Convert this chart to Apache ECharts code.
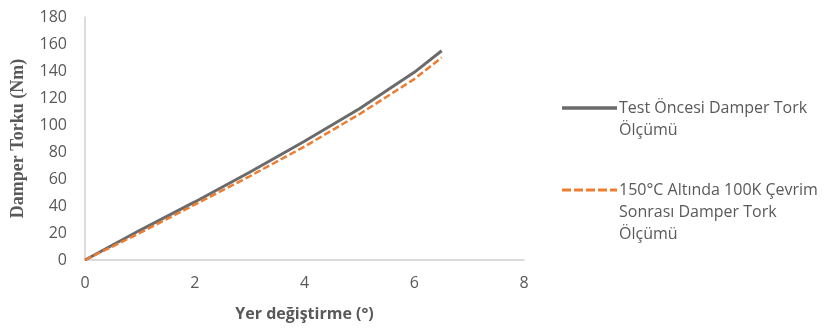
<!DOCTYPE html>
<html>
<head>
<meta charset="utf-8">
<script src="https://cdn.jsdelivr.net/npm/echarts@6/dist/echarts.min.js"></script>
<style>
  html, body { margin: 0; padding: 0; background: #fff; }
  #main { width: 832px; height: 331px; }
</style>
</head>
<body>
<div id="main"></div>
<script>
// displacement (deg) and torque (Nm)
const displacement = [0, 1, 2, 3, 4, 5, 6, 6.5];
const torqueBefore = [0, 22, 43, 65, 88, 112, 139, 155];
const torqueAfter = [0, 20, 41, 62, 84, 108, 134, 150];
const seriesNames = [
  "Test Öncesi Damper Tork Ölçümü",
  "150°C Altında 100K Çevrim Sonrası Damper Tork Ölçümü"
];
const legendLines = [
  ["Test Öncesi Damper Tork", "Ölçümü"],
  ["150°C Altında 100K Çevrim", "Sonrası Damper Tork", "Ölçümü"]
];

const gray = "#6b6b6b";
const orange = "#ed7d31";
const textColor = "#595959";

function pairs(xs, ys) {
  return xs.map((x, i) => [x, ys[i]]);
}

// legend drawn by hand so the symbol sits on the first text line
function legendBlock(top, color, dashed, lines) {
  const els = [{
    type: "line",
    shape: { x1: 562, y1: top, x2: 617, y2: top },
    style: { stroke: color, lineWidth: dashed ? 3 : 3.5, lineDash: dashed ? [9, 3] : null }
  }];
  lines.forEach((t, i) => {
    els.push({
      type: "text",
      x: 619, y: top + i * 22,
      style: {
        text: t, fill: textColor, font: "16px 'Open Sans'",
        verticalAlign: "middle", align: "left"
      }
    });
  });
  return els;
}

const chart = echarts.init(document.getElementById("main"));
chart.setOption({
  animation: false,
  grid: { left: 85, right: 308, top: 17, bottom: 71, outerBoundsMode: "none", containLabel: false },
  xAxis: {
    type: "value",
    min: 0, max: 8, interval: 2,
    name: "Yer değiştirme (°)",
    nameLocation: "middle",
    nameGap: 46,
    nameTextStyle: { color: textColor, fontFamily: "Open Sans", fontWeight: "bold", fontSize: 16 },
    axisLine: { show: true, lineStyle: { color: "#d0d0d0", width: 1.5 } },
    axisTick: { show: false },
    splitLine: { show: false },
    axisLabel: { color: textColor, fontFamily: "Open Sans", fontSize: 16, margin: 15 }
  },
  yAxis: {
    type: "value",
    min: 0, max: 180, interval: 20,
    name: "Damper Torku (Nm)",
    nameLocation: "middle",
    nameGap: 58,
    nameTextStyle: { color: textColor, fontFamily: "Liberation Serif", fontWeight: "bold", fontSize: 18 },
    axisLine: { show: true, lineStyle: { color: "#d0d0d0", width: 1.5 } },
    axisTick: { show: false },
    splitLine: { show: false },
    axisLabel: { color: textColor, fontFamily: "Open Sans", fontSize: 16, margin: 18 }
  },
  series: [
    {
      name: seriesNames[0],
      type: "line",
      data: pairs(displacement, torqueBefore),
      showSymbol: false,
      lineStyle: { color: gray, width: 3 }
    },
    {
      name: seriesNames[1],
      type: "line",
      data: pairs(displacement, torqueAfter),
      showSymbol: false,
      lineStyle: { color: orange, width: 2.5, type: [7, 3] }
    }
  ],
  graphic: legendBlock(108, gray, false, legendLines[0])
    .concat(legendBlock(190, orange, true, legendLines[1]))
});
</script>
</body>
</html>
